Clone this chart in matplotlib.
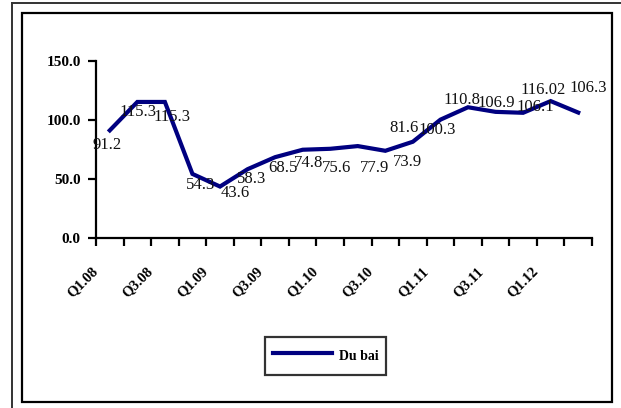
import matplotlib
matplotlib.use("Agg")
import matplotlib.pyplot as plt
from matplotlib.patches import Rectangle
from matplotlib.lines import Line2D
import matplotlib.transforms as mtransforms

categories = ["Q1.08", "Q2.08", "Q3.08", "Q4.08", "Q1.09", "Q2.09", "Q3.09", "Q4.09",
              "Q1.10", "Q2.10", "Q3.10", "Q4.10", "Q1.11", "Q2.11", "Q3.11", "Q4.11",
              "Q1.12", "Q2.12"]
dubai = [91.2, 115.3, 115.3, 54.3, 43.6, 58.3, 68.5, 74.8, 75.6, 77.9, 73.9, 81.6,
         100.3, 110.8, 106.9, 106.1, 116.02, 106.3]
value_labels = ["91.2", "115.3", "115.3", "54.3", "43.6", "58.3", "68.5", "74.8", "75.6",
                "77.9", "73.9", "81.6", "100.3", "110.8", "106.9", "106.1", "116.02", "106.3"]
yticks = [0, 50, 100, 150]
ytick_labels = ["0.0", "50.0", "100.0", "150.0"]

# label offsets (pixels, x right / y up) - styling only
label_dx = [-3, 1, 7, 8, 15, 4, 8, 6, 6, 17, 22, -9, -3, -6, 1, 12, -8, 10]
label_dy = [-15, -10, -15, -11, -6, -10, -11, -13, -19, -22, -11, 14, -10, 7, 9, 6, 11, 25]

W, H = 621, 408
fig = plt.figure(figsize=(W / 100, H / 100), dpi=100)
fig.patch.set_facecolor("white")

serif = ["Liberation Serif", "DejaVu Serif"]

ax = fig.add_axes([96 / W, 1 - 238 / H, (592 - 96) / W, (238 - 61) / H])
x = list(range(len(dubai)))
ax.plot(x, dubai, color="#000080", lw=3.0, solid_joinstyle="miter", label="Dubai", zorder=3)

for xi, yi, lab, dx, dy in zip(x, dubai, value_labels, label_dx, label_dy):
    ax.annotate(lab, (xi, yi), xytext=(dx, dy), textcoords="offset pixels",
                ha="center", va="center", fontsize=12, family=serif, color="#111111",
                zorder=4)

ax.set_xlim(-0.5, len(dubai) - 0.5)
ax.set_ylim(0, 150)
for s in ["top", "right"]:
    ax.spines[s].set_visible(False)
for s in ["left", "bottom"]:
    ax.spines[s].set_linewidth(1.6)
    ax.spines[s].set_color("black")

ax.set_yticks(yticks)
ax.set_yticklabels(ytick_labels, fontsize=11, fontweight="bold", family=serif)
ax.tick_params(axis="y", direction="out", length=6, width=1.6, pad=5)

# major ticks at category boundaries, labels at every other category center
ax.set_xticks([i - 0.5 for i in range(len(dubai) + 1)])
ax.set_xticklabels([])
ax.tick_params(axis="x", which="major", direction="out", length=6, width=1.6)
shown = list(range(0, len(dubai), 2))[:9]
ax.set_xticks(shown, minor=True)
ax.set_xticklabels([categories[i] for i in shown], minor=True, rotation=45,
                   ha="right", va="top", rotation_mode="anchor",
                   fontsize=10.5, fontweight="bold", family=serif)
ax.tick_params(axis="x", which="minor", length=0, pad=19)
offset = mtransforms.ScaledTranslation(-19 / 100, 0, fig.dpi_scale_trans)
for lab in ax.get_xticklabels(minor=True):
    lab.set_transform(lab.get_transform() + offset)

leg = ax.legend(loc="lower left",
                bbox_to_anchor=(265 / W, 1 - 375 / H, (386 - 265) / W, (375 - 327) / H),
                bbox_transform=fig.transFigure, mode="expand",
                prop={"family": serif, "weight": "bold", "size": 10},
                frameon=True, fancybox=False, shadow=False, borderpad=0.6,
                handlelength=4.2, handleheight=2.0, handletextpad=0.5, borderaxespad=0)
leg.get_frame().set_edgecolor("black")
leg.get_frame().set_linewidth(1.6)
for t in leg.get_texts():
    t.set_text("Du bai")

# chart borders
fig.add_artist(Rectangle((22 / W, 1 - 402 / H), (612 - 22) / W, (402 - 13) / H,
                         transform=fig.transFigure, fill=False, edgecolor="black", lw=1.6))
fig.add_artist(Line2D([12 / W, 12 / W], [0, 1 - 2.5 / H], transform=fig.transFigure,
                      color="#333333", lw=1.4))
fig.add_artist(Line2D([12 / W, 1], [1 - 2.5 / H, 1 - 2.5 / H], transform=fig.transFigure,
                      color="#333333", lw=1.4))

fig.savefig("out.png", dpi=100)
